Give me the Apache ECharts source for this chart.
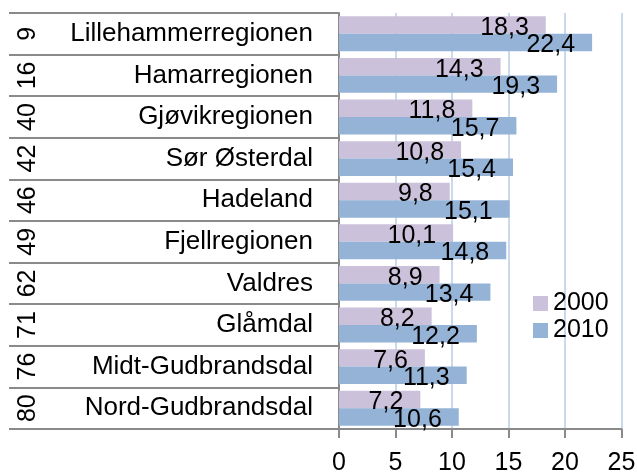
<!DOCTYPE html>
<html>
<head>
<meta charset="utf-8">
<script src="https://cdn.jsdelivr.net/npm/echarts@6/dist/echarts.min.js"></script>
<style>
  html, body { margin: 0; padding: 0; background: #fff; }
  #chart { width: 637px; height: 472px; }
</style>
</head>
<body>
<div id="chart"></div>
<script>
// rangering (venstre kolonne) og regionnavn
const ranks = ['9', '16', '40', '42', '46', '49', '62', '71', '76', '80']
const regions = [
  'Lillehammerregionen', 'Hamarregionen', 'Gjøvikregionen', 'Sør Østerdal', 'Hadeland',
  'Fjellregionen', 'Valdres', 'Glåmdal', 'Midt-Gudbrandsdal', 'Nord-Gudbrandsdal'
]
const values2000 = [18.3, 14.3, 11.8, 10.8, 9.8, 10.1, 8.9, 8.2, 7.6, 7.2]
const values2010 = [22.4, 19.3, 15.7, 15.4, 15.1, 14.8, 13.4, 12.2, 11.3, 10.6]

const FONT = 'Liberation Sans, Arial, sans-serif'
const GREY = '#8a8a8a'

const fmt = (p) => p.value.toFixed(1).replace('.', ',')

const chart = echarts.init(document.getElementById('chart'))

chart.setOption({
  animation: false,
  textStyle: { fontFamily: FONT },
  grid: { left: 339, right: 15.5, top: 13, bottom: 43, outerBoundsMode: 'none' },
  legend: {
    orient: 'vertical',
    left: 528,
    top: 286,
    itemWidth: 15,
    itemHeight: 15,
    itemGap: 2,
    icon: 'rect',
    textStyle: { fontSize: 25, color: '#000', fontFamily: FONT, padding: [0, 0, 0, 0] },
    data: ['2000', '2010']
  },
  xAxis: {
    type: 'value',
    min: 0,
    max: 25,
    interval: 5,
    axisLine: { show: true, lineStyle: { color: GREY, width: 2 } },
    axisTick: { show: true, length: 9, lineStyle: { color: GREY, width: 2 } },
    axisLabel: { fontSize: 25, color: '#000', margin: 22 },
    splitLine: { show: true, lineStyle: { color: '#b9cde5', width: 1.5 } }
  },
  yAxis: [
    {
      type: 'category',
      data: regions,
      inverse: true,
      axisLine: { show: true, lineStyle: { color: GREY, width: 2 } },
      axisTick: { show: true, length: 330, lineStyle: { color: GREY, width: 2 } },
      axisLabel: { fontSize: 26, color: '#000', margin: 26 }
    },
    {
      type: 'category',
      data: ranks,
      inverse: true,
      position: 'left',
      offset: 294,
      axisLine: { show: false },
      axisTick: { show: false },
      axisLabel: { fontSize: 25, color: '#000', rotate: 90, margin: 4 }
    }
  ],
  series: [
    {
      name: '2000',
      type: 'bar',
      data: values2000,
      barGap: '0%',
      barCategoryGap: '16%',
      itemStyle: { color: '#ccc1da' },
      label: {
        show: true,
        position: 'insideRight',
        distance: 17,
        offset: [0, 3],
        fontSize: 25,
        color: '#000',
        formatter: fmt
      }
    },
    {
      name: '2010',
      type: 'bar',
      data: values2010,
      barGap: '0%',
      barCategoryGap: '16%',
      itemStyle: { color: '#95b3d7' },
      label: {
        show: true,
        position: 'insideRight',
        distance: 17,
        offset: [0, 3],
        fontSize: 25,
        color: '#000',
        formatter: fmt
      }
    }
  ]
})
</script>
</body>
</html>
